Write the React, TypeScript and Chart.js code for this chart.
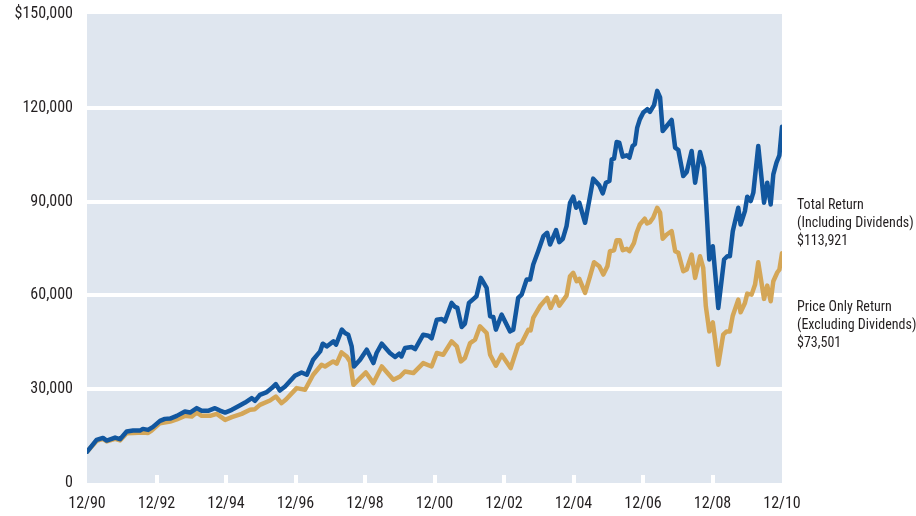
import React, { useEffect, useRef } from "react";
import { Chart, registerables } from "chart.js";

Chart.register(...registerables);

// x = months since 12/90
const xTickLabels = ["12/90", "12/92", "12/94", "12/96", "12/98", "12/00", "12/02", "12/04", "12/06", "12/08", "12/10"];
const yTickValues = [0, 30000, 60000, 90000, 120000, 150000];
const yTickLabels = ["0", "30,000", "60,000", "90,000", "120,000", "$150,000"];

const totalMonths = [0, 3.3, 5.5, 6.8, 9.7, 11.4, 13.7, 15.9, 18.3, 19.3, 21.1, 22.8, 25.2, 26.9, 28.7, 31, 33.8, 35.6, 37.9, 39.6, 41.8, 44.2, 45.9, 47.7, 50, 52.1, 54.6, 56.9, 58, 59.7, 62.1, 63.8, 65.2, 66.6, 68.4, 71.8, 74.1, 75.9, 78.1, 80.5, 81.4, 82.8, 85.1, 86, 88, 89.1, 90.2, 91.4, 92.2, 94.3, 96.6, 98.9, 100, 101.8, 104.6, 106.4, 107.8, 108.6, 109.8, 112.1, 113.3, 116.1, 117.9, 119, 120.8, 122.5, 123.6, 125.9, 127.1, 127.9, 129.4, 130.5, 131.9, 133.2, 134.5, 136, 138, 139.2, 140.3, 141.2, 143.2, 146.1, 147.2, 148.9, 150.1, 151.8, 153, 154.1, 155.8, 157.6, 158.9, 159.9, 162, 163.1, 164.3, 165.6, 166.8, 167.9, 168.9, 170, 172, 173.4, 174.8, 176.9, 178.1, 179.2, 180.4, 181.2, 182, 182.9, 183.8, 185, 186.4, 187.3, 188.4, 189.2, 190, 190.9, 192.1, 193.5, 194.4, 195.8, 196.9, 197.9, 198.8, 200.2, 201.9, 203.1, 204.2, 205.9, 207.1, 208.8, 210, 211.7, 213.1, 214, 214.9, 216.1, 218, 220, 221.1, 222, 223, 224.9, 225.7, 227.2, 228, 229.2, 230.1, 231.8, 233.8, 234.9, 236.1, 237, 238.1, 239.1, 240];
const totalReturn = [10000, 13780, 14420, 13560, 14520, 14010, 16440, 16760, 16760, 17300, 16990, 17950, 19870, 20510, 20610, 21470, 22850, 22530, 23940, 23080, 23080, 23940, 23170, 22530, 23400, 24450, 25740, 27150, 26280, 28200, 29070, 30350, 31630, 29580, 30860, 34290, 35350, 34610, 39420, 42080, 44550, 43680, 45290, 44230, 49040, 47980, 47430, 43680, 37270, 39420, 42630, 38360, 41570, 44550, 41570, 40290, 41340, 40480, 43170, 43490, 42850, 47430, 47110, 46250, 52240, 52470, 51700, 57590, 56310, 55990, 49900, 50960, 57590, 58650, 59710, 65610, 62400, 53300, 53110, 49040, 53840, 48490, 49040, 59200, 60250, 65060, 65060, 69870, 74130, 78940, 80030, 76280, 80860, 77020, 78110, 82140, 89640, 91570, 88040, 89640, 83230, 90160, 97340, 95190, 92620, 96050, 96570, 103520, 103750, 109060, 108870, 104380, 104800, 104060, 107780, 108330, 113680, 116300, 118490, 119550, 118680, 120830, 125410, 123290, 112590, 114190, 116120, 107270, 106500, 98170, 99450, 106180, 96050, 105860, 100860, 86440, 71470, 75730, 55990, 71470, 72530, 72530, 80540, 88040, 82690, 86950, 91570, 90160, 92850, 107780, 89640, 96050, 89100, 98710, 102460, 104800, 113921];

const priceMonths = [0, 3.3, 5.5, 6.8, 9.7, 11.4, 13.7, 15.9, 19.3, 21.1, 22.3, 25.2, 28.7, 31, 33.8, 36.2, 37.9, 39.6, 42.5, 44.8, 47.7, 50, 53.4, 56.3, 58, 59.7, 63.2, 65.2, 67.2, 68.7, 72.4, 75.3, 78.1, 81, 82.2, 85, 86.2, 87.9, 89.7, 90.8, 92, 94.3, 96.3, 98.9, 101.8, 105.8, 108.1, 109.8, 112.7, 116.1, 119, 120.8, 123, 125.9, 127.7, 129.1, 130.5, 132.3, 134, 135.7, 138, 139.2, 141.2, 143.2, 146.3, 148.9, 150.1, 152.4, 153.2, 154.1, 156.4, 158.9, 160.1, 161.9, 163.1, 165.6, 166.8, 167.9, 169.1, 170, 172, 173.7, 175.1, 176.9, 178.3, 179.7, 180.6, 182, 182.9, 184, 185, 186.4, 187.3, 188.9, 189.8, 190.9, 192.6, 193.4, 194.4, 195.5, 196.9, 197.9, 198.8, 200.2, 201.9, 203.1, 204.2, 205.9, 207.1, 208.8, 210, 211.7, 212.8, 213.7, 214.9, 216.1, 218, 219.7, 220.9, 222, 223, 224.9, 225.7, 227.2, 228, 229.5, 230.7, 231.8, 233.8, 234.9, 236.1, 237, 238.4, 239.1, 240];
const priceReturn = [10000, 13460, 14100, 13300, 14100, 13620, 15930, 16030, 16120, 16030, 16760, 19130, 19650, 20350, 21470, 21250, 22530, 21470, 21470, 22110, 20190, 21060, 22110, 23400, 23620, 25000, 26380, 27660, 25540, 26700, 30350, 29810, 34610, 37820, 37270, 38880, 38140, 41760, 40480, 38880, 31410, 33560, 35350, 31950, 37270, 33010, 34070, 35670, 35160, 38360, 37270, 41570, 41020, 45290, 43680, 38880, 39970, 44770, 45830, 50090, 47980, 41020, 37500, 41020, 36760, 44230, 44770, 49040, 48810, 52790, 56510, 59200, 55990, 59520, 56730, 59930, 66120, 67210, 64520, 65290, 60800, 66120, 70610, 69320, 66660, 69320, 74130, 74450, 77660, 77660, 74450, 74900, 74130, 76820, 80030, 82690, 84520, 83010, 83430, 84840, 88040, 86440, 78110, 79480, 80540, 74130, 73620, 67720, 68270, 73070, 65610, 72530, 68810, 56510, 48490, 51380, 37820, 47430, 48490, 48490, 53520, 58650, 54580, 57590, 60570, 60250, 63460, 70610, 58880, 63140, 58110, 64520, 67400, 68270, 73501];

const totalLabel = ["Total Return", "(Including Dividends)", "$113,921"];
const priceLabel = ["Price Only Return", "(Excluding Dividends)", "$73,501"];

const FONT = '"Roboto Condensed", Roboto, sans-serif';
const TEXT = "#231f20";
const BG = "#dfe6ef";
const BLUE = "#12579f";
const GOLD = "#d4a657";

const bgPlugin = {
  id: "bgPlugin",
  beforeDraw(chart: any) {
    const { ctx, chartArea } = chart;
    ctx.save();
    ctx.fillStyle = BG;
    ctx.fillRect(chartArea.left, chartArea.top, chartArea.right - chartArea.left, chartArea.bottom - chartArea.top);
    ctx.restore();
  },
  beforeDatasetsDraw(chart: any) {
    const { ctx, chartArea, scales } = chart;
    ctx.save();
    ctx.fillStyle = "#ffffff";
    for (let i = 1; i < xTickLabels.length - 1; i++) {
      const x = scales.x.getPixelForValue(i * 24);
      ctx.fillRect(Math.round(x) - 2, chartArea.bottom - 8, 4, 8);
    }
    ctx.restore();
  },
  afterDraw(chart: any) {
    const { ctx, chartArea } = chart;
    ctx.save();
    ctx.fillStyle = TEXT;
    ctx.font = "14px " + FONT;
    ctx.textBaseline = "middle";
    ctx.textAlign = "left";
    const x = chartArea.right + 15;
    totalLabel.forEach((t, i) => ctx.fillText(t, x, 205 + i * 18));
    priceLabel.forEach((t, i) => ctx.fillText(t, x, 307 + i * 18));
    ctx.restore();
  },
};

export default function App() {
  const ref = useRef<HTMLCanvasElement>(null);
  useEffect(() => {
    document.body.style.margin = "0";
    const canvas = ref.current!;
    const chart = new Chart(canvas, {
      type: "line",
      data: {
        datasets: [
          {
            label: "Total Return",
            data: totalMonths.map((m, i) => ({ x: m, y: totalReturn[i] })),
            borderColor: BLUE,
            borderWidth: 4.5,
            pointRadius: 0,
            tension: 0,
            borderJoinStyle: "round",
            borderCapStyle: "round",
          },
          {
            label: "Price Only Return",
            data: priceMonths.map((m, i) => ({ x: m, y: priceReturn[i] })),
            borderColor: GOLD,
            borderWidth: 4.5,
            pointRadius: 0,
            tension: 0,
            borderJoinStyle: "round",
            borderCapStyle: "round",
          },
        ],
      },
      options: {
        animation: false,
        responsive: false,
        layout: { padding: { top: 14, right: 134, left: 0, bottom: 0 } },
        plugins: { legend: { display: false }, tooltip: { enabled: false } },
        scales: {
          x: {
            type: "linear",
            min: 0,
            max: 240,
            afterBuildTicks: (scale: any) => {
              scale.ticks = xTickLabels.map((_, i) => ({ value: i * 24 }));
            },
            afterFit: (scale: any) => {
              scale.height = 33;
              scale.paddingLeft = 0;
              scale.paddingRight = 0;
            },
            ticks: {
              autoSkip: false,
              maxRotation: 0,
              padding: 11,
              color: TEXT,
              font: { family: FONT, size: 16 },
              callback: (v: any) => xTickLabels[Math.round(Number(v) / 24)] ?? "",
            },
            grid: { display: false, drawTicks: false },
            border: { display: false },
          },
          y: {
            min: 0,
            max: 150000,
            afterBuildTicks: (scale: any) => {
              scale.ticks = yTickValues.map((v) => ({ value: v }));
            },
            afterFit: (scale: any) => {
              scale.width = 87;
              scale.paddingTop = 0;
              scale.paddingBottom = 0;
            },
            ticks: {
              padding: 14,
              color: TEXT,
              font: { family: FONT, size: 16 },
              callback: (v: any) => yTickLabels[yTickValues.indexOf(Number(v))] ?? "",
            },
            grid: {
              drawTicks: false,
              lineWidth: 4,
              color: (c: any) => {
                const v = c.tick ? c.tick.value : -1;
                return v > 0 && v < 150000 ? "#ffffff" : "rgba(0,0,0,0)";
              },
            },
            border: { display: false },
          },
        },
      },
      plugins: [bgPlugin],
    } as any);
    return () => chart.destroy();
  }, []);
  return (
    <div style={{ position: "fixed", left: 0, top: 0, width: 916, height: 516 }}>
      <canvas ref={ref} width={916} height={516} />
    </div>
  );
}
